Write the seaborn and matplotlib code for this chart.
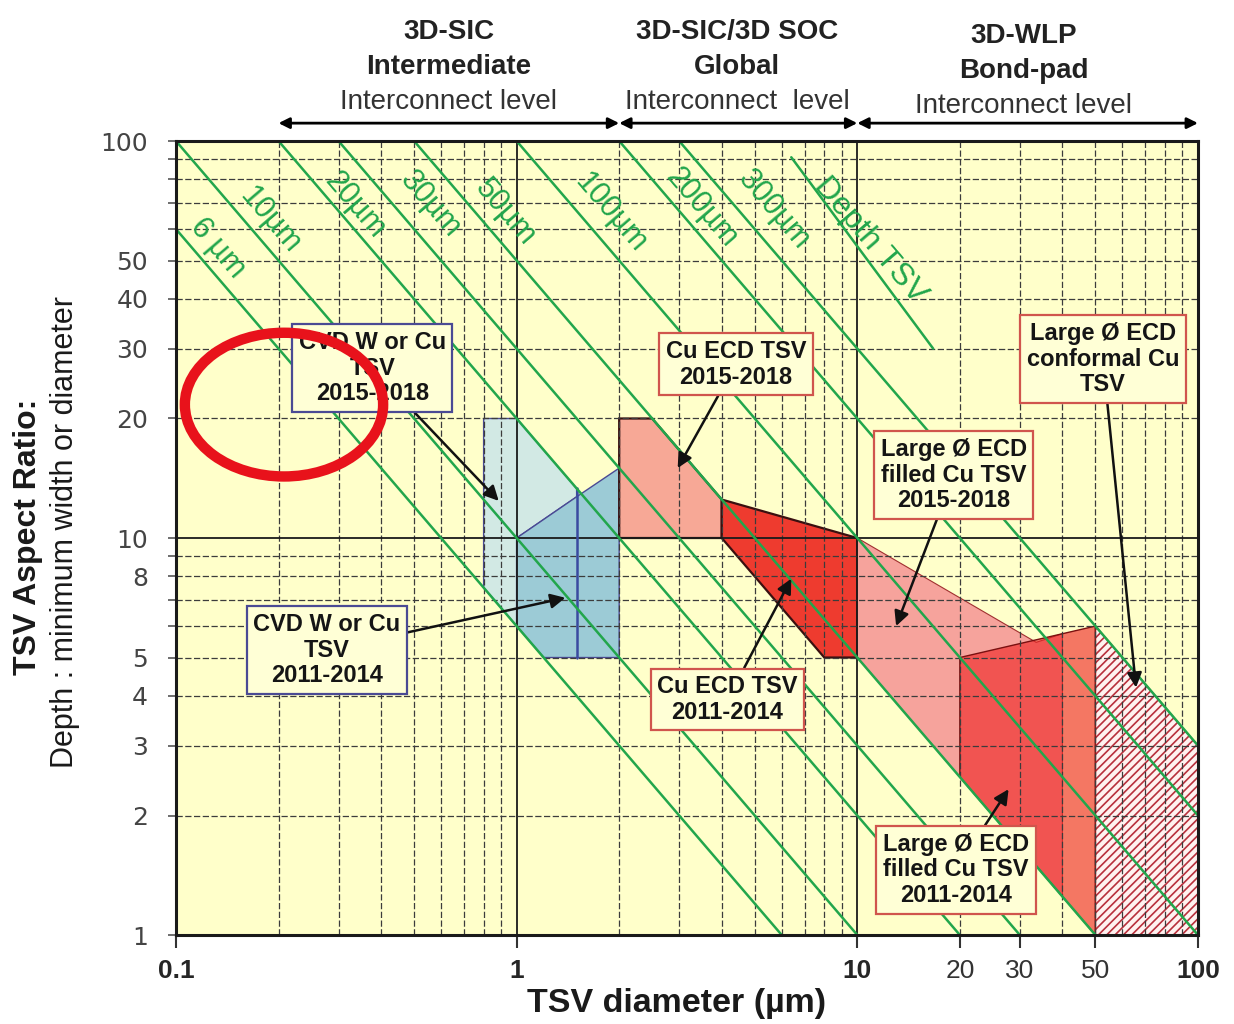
import matplotlib
matplotlib.use("Agg")
import matplotlib.pyplot as plt
import matplotlib.transforms as mtransforms
from matplotlib.patches import Ellipse
from matplotlib.ticker import FixedLocator, LogLocator, FuncFormatter
import numpy as np
import pandas as pd
import seaborn as sns

# --- constant TSV depth guide lines (um) ---
depths = [6, 10, 20, 30, 50, 100, 200, 300]
depth_labels = ['6 µm', '10µm', '20µm', '30µm', '50µm', '100µm', '200µm', '300µm']
depth_label_x = [0.133, 0.189, 0.336, 0.558, 0.928, 1.89, 3.48, 5.7]
depth_label_y = [53.8, 63.2, 69, 69, 65.9, 65.9, 67.8, 67]
depth_tsv_x = [6.4, 16.7]
depth_tsv_y = [91, 30]

# --- technology regions (diameter um, aspect ratio) ---
cvd_new_x = [0.8, 1, 1.5, 1.5, 1, 1, 0.8]
cvd_new_y = [20, 20, 13.33, 12.7, 10, 6, 7.5]
cvd_old_x = [1, 1.5, 2, 2, 1.2, 1]
cvd_old_y = [10, 12.7, 15, 5, 5, 6]
cu_new_x = [2, 2.5, 4, 4, 2]
cu_new_y = [20, 20, 12.5, 10, 10]
cu_old_x = [4, 10, 10, 8, 4]
cu_old_y = [12.5, 10, 5, 5, 10]
large_new_x = [10, 33.5, 40, 40, 10]
large_new_y = [10, 5.46, 5.74, 1.25, 5]
large_old_x = [20, 50, 50, 20]
large_old_y = [5, 6, 1, 2.5]
conformal_x = [50, 100, 100, 50]
conformal_y = [6, 3, 1, 1]

# --- callouts: text, box centre, arrow tip, edge colour ---
callout_text = ['CVD W or Cu\nTSV\n2015-2018', 'CVD W or Cu\nTSV\n2011-2014',
                'Cu ECD TSV\n2015-2018', 'Cu ECD TSV\n2011-2014',
                'Large Ø ECD\nfilled Cu TSV\n2015-2018', 'Large Ø ECD\nconformal Cu\nTSV',
                'Large Ø ECD\nfilled Cu TSV\n2011-2014']
callout_box_x = [0.377, 0.277, 4.4, 4.16, 19.2, 52.6, 19.5]
callout_box_y = [26.8, 5.22, 27.4, 3.92, 14.4, 28.2, 1.46]
callout_tip_x = [0.886, 1.39, 2.97, 6.4, 13.0, 65.8, 27.8]
callout_tip_y = [12.4, 7.07, 15.0, 7.9, 6.0, 4.2, 2.33]
callout_edge = ['#4a4a94', '#4a4a94', '#d0554d', '#d0554d', '#d0554d', '#d0554d', '#d0554d']

# --- interconnect level bands on top ---
band_title = ['3D-SIC', '3D-SIC/3D SOC', '3D-WLP']
band_sub = ['Intermediate', 'Global', 'Bond-pad']
band_level = ['Interconnect level', 'Interconnect  level', 'Interconnect level']
band_lo = [0.2, 2, 10]
band_hi = [2, 10, 100]
band_center = [0.631, 4.44, 30.8]

x_ticks_major = [0.1, 1, 10, 100]
x_ticks_labeled_minor = [20, 30, 50]
y_ticks_major = [1, 10, 100]
y_ticks_labeled_minor = [2, 3, 4, 5, 8, 20, 30, 40, 50]

GREEN = '#22a64c'
NARROW = ['Liberation Sans Narrow', 'Liberation Sans', 'DejaVu Sans']
ARIAL = ['Liberation Sans', 'DejaVu Sans']

sns.set_style('ticks')
plt.rcParams['font.family'] = ['Liberation Sans', 'DejaVu Sans']
plt.rcParams['hatch.linewidth'] = 1.2

fig = plt.figure(figsize=(12.34, 10.24), dpi=100)
ax = fig.add_axes([0.1426, 0.0869, 0.8282, 0.7754])
ax.set_xscale('log')
ax.set_yscale('log')
ax.set_xlim(0.1, 100)
ax.set_ylim(1, 100)
ax.set_facecolor('#ffffca')

# grid
ax.xaxis.set_major_locator(FixedLocator(x_ticks_major))
ax.yaxis.set_major_locator(FixedLocator(y_ticks_major))
ax.xaxis.set_minor_locator(LogLocator(base=10, subs=range(2, 10)))
ax.yaxis.set_minor_locator(LogLocator(base=10, subs=range(2, 10)))
ax.set_axisbelow(False)
ax.grid(which='major', color='#1a1a1a', lw=1.3, ls='-')
ax.grid(which='minor', color='#3c3c3c', lw=0.9, ls=(0, (5, 2)))

# regions
ax.fill(cvd_new_x, cvd_new_y, fc='#d2e9e4', ec='#4a4a94', lw=1.0, zorder=1)
ax.fill(cvd_old_x, cvd_old_y, fc='#9ccbd6', ec='#4a4a94', lw=1.0, zorder=1)
ax.plot([1.5, 1.5], [5, 13.33], color='#3a4aa0', lw=1.8, zorder=2.6)
ax.fill(cu_new_x, cu_new_y, fc='#f7a896', ec='#3a1010', lw=1.6, zorder=1)
ax.fill(cu_old_x, cu_old_y, fc='#ee3b2f', ec='#3a1010', lw=1.6, zorder=1)
ax.fill(large_new_x, large_new_y, fc='#f6a39c', ec='#a03030', lw=0.8, zorder=1)
ax.fill(large_old_x, large_old_y, fc='#ee2424', alpha=0.62, ec='none', zorder=1.1)
ax.fill(large_old_x, large_old_y, fc='none', ec='#7a1010', lw=1.0, zorder=1.2)
ax.fill(conformal_x, conformal_y, fc='#fff2f0', ec='#b8303c', hatch='////', lw=0, zorder=1)
ax.fill(conformal_x, conformal_y, fc='none', ec='#8a1a1a', lw=1.0, zorder=1.2)

# constant-depth lines
rows = []
for D in depths:
    lo, hi = max(0.1, D / 100), min(100, D)
    rows += [(D, lo, D / lo), (D, hi, D / hi)]
lines_df = pd.DataFrame(rows, columns=['depth', 'diameter', 'ratio'])
sns.lineplot(data=lines_df, x='diameter', y='ratio', units='depth', estimator=None,
             color=GREEN, lw=1.8, ax=ax, zorder=3, legend=False)
ax.plot(depth_tsv_x, depth_tsv_y, color=GREEN, lw=1.8, zorder=3)
ax.set_xlim(0.1, 100)
ax.set_ylim(1, 100)
ax.set_xlabel('')
ax.set_ylabel('')

p1 = ax.transData.transform((1, 10))
p2 = ax.transData.transform((10, 1))
angle = np.degrees(np.arctan2(p2[1] - p1[1], p2[0] - p1[0]))
for lab, lx, ly in zip(depth_labels, depth_label_x, depth_label_y):
    ax.text(lx, ly, lab, rotation=angle, rotation_mode='anchor', ha='center', va='center',
            color=GREEN, fontsize=22, family=ARIAL, zorder=4)
ax.text(10.9, 56.3, 'Depth TSV', rotation=angle, rotation_mode='anchor', ha='center',
        va='center', color=GREEN, fontsize=23, family=ARIAL, zorder=4)

# callouts
for txt, bx, by, tx, ty, ec in zip(callout_text, callout_box_x, callout_box_y,
                                    callout_tip_x, callout_tip_y, callout_edge):
    ax.annotate(txt, xy=(tx, ty), xytext=(bx, by), ha='center', va='center',
                fontsize=17, fontweight='bold', color='#151515', linespacing=1.15,
                bbox=dict(boxstyle='square,pad=0.28', fc='#ffffd6', ec=ec, lw=1.6),
                arrowprops=dict(arrowstyle='-|>', color='#111111', lw=1.8,
                                mutation_scale=22, shrinkA=0, shrinkB=0),
                zorder=6)

# red highlight ellipse
ax.add_patch(Ellipse((0.1057, 0.668), 0.194, 0.181, transform=ax.transAxes, fill=False,
                     ec='#e8121b', lw=7.5, zorder=8))

# top bands
trans = mtransforms.blended_transform_factory(ax.transData, ax.transAxes)
for i in range(3):
    ax.annotate('', xy=(band_hi[i], 1.0225), xytext=(band_lo[i], 1.0225),
                xycoords=trans, textcoords=trans,
                arrowprops=dict(arrowstyle='<|-|>', color='black', lw=2,
                                mutation_scale=16, shrinkA=0, shrinkB=0),
                annotation_clip=False)
    dy = -0.005 if i == 2 else 0
    ax.text(band_center[i], 1.137 + dy, band_title[i], transform=trans, ha='center',
            va='center', fontsize=20, fontweight='bold', family=NARROW, color='#222')
    ax.text(band_center[i], 1.093 + dy, band_sub[i], transform=trans, ha='center',
            va='center', fontsize=20, fontweight='bold', family=NARROW, color='#222')
    ax.text(band_center[i], 1.049 + dy, band_level[i], transform=trans, ha='center',
            va='center', fontsize=20, family=NARROW, color='#333')

# ticks
ax.xaxis.set_major_formatter(FuncFormatter(lambda v, p: f'{v:g}'))
ax.xaxis.set_minor_formatter(FuncFormatter(
    lambda v, p: f'{v:g}' if any(abs(v - t) < 1e-6 for t in x_ticks_labeled_minor) else ''))
ax.yaxis.set_major_formatter(FuncFormatter(lambda v, p: f'{v:g}'))
ax.yaxis.set_minor_formatter(FuncFormatter(
    lambda v, p: f'{v:g}' if any(abs(v - t) < 1e-6 for t in y_ticks_labeled_minor) else ''))
ax.tick_params(axis='x', which='major', length=9, width=1.5, pad=8, labelsize=19, color='#333')
ax.tick_params(axis='x', which='minor', length=9, width=1.5, pad=8, labelsize=19,
               labelcolor='#333', color='#333')
ax.tick_params(axis='y', which='both', length=6, width=1.2, pad=14, labelsize=18,
               labelcolor='#444', color='#555')
for lbl in ax.get_xticklabels():
    lbl.set_fontweight('bold')
for lbl in ax.get_yticklabels(which='both'):
    lbl.set_family('DejaVu Sans')

fig.canvas.draw()
for tick, loc in zip(ax.xaxis.get_minor_ticks(), ax.xaxis.get_minorticklocs()):
    tick.tick1line.set_visible(any(abs(loc - t) < 1e-6 for t in x_ticks_labeled_minor))

for sp in ax.spines.values():
    sp.set_color('#1a1a1a')
    sp.set_linewidth(2.2)
    sp.set_zorder(7)

fig.text(0.5486, 0.0205, 'TSV diameter (µm)', ha='center', va='center', fontsize=24.5,
         fontweight='bold', color='#1a1a1a')
fig.text(0.0227, 0.4756, 'TSV Aspect Ratio:', ha='center', va='center', rotation=90,
         fontsize=23, fontweight='bold', color='#1a1a1a')
fig.text(0.0527, 0.4805, 'Depth : minimum width or diameter', ha='center', va='center',
         rotation=90, fontsize=22, family=NARROW, color='#1a1a1a')

fig.savefig('out.png', dpi=100, facecolor='white')
